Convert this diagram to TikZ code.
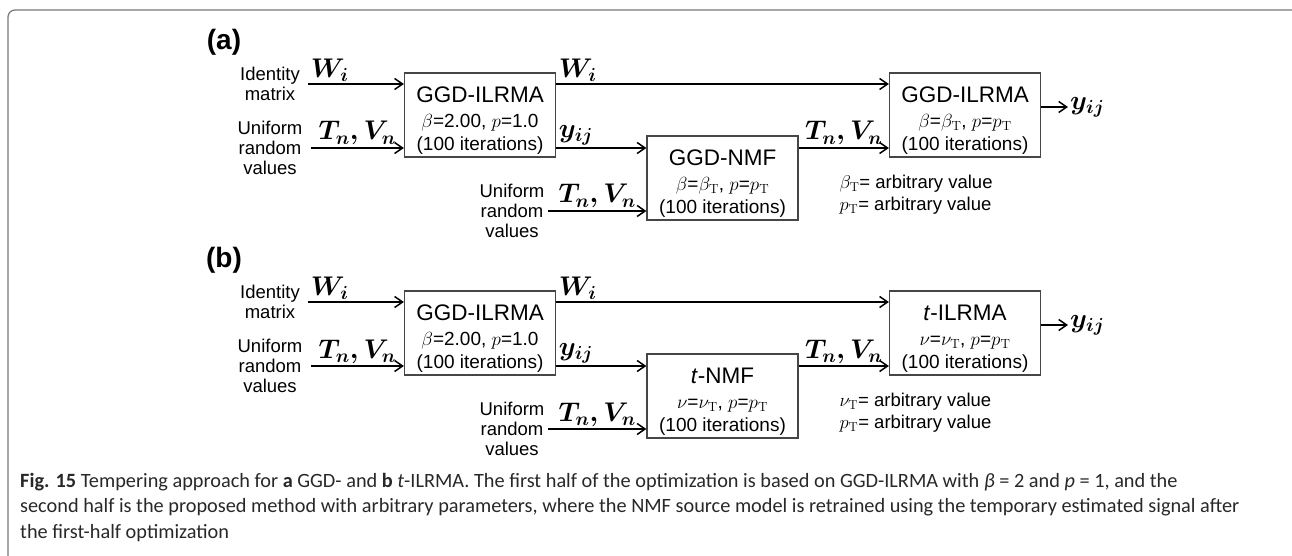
\RequirePackage{fix-cm}
\documentclass[tikz,border=0pt]{standalone}
\usepackage{amsmath}
\usepackage[no-math]{fontspec}
\setmainfont{Liberation Sans}
\newfontfamily\capfont{Carlito}
\usepackage{tikz}
\usetikzlibrary{arrows.meta, positioning, calc}
\definecolor{cframe}{RGB}{120,120,120}
\definecolor{cbox}{RGB}{70,70,70}
\definecolor{ccap}{RGB}{40,40,40}

\newcommand{\bigsz}{\fontsize{22.5}{25}\selectfont}
\newcommand{\midsz}{\fontsize{19}{22.5}\selectfont}
\newcommand{\vecsz}{\fontsize{27}{30}\selectfont}
\newcommand{\bv}[1]{$\boldsymbol{#1}$}
\newcommand{\topstrut}{\rule{0pt}{26pt}}

\begin{document}
\begin{tikzpicture}[
    x=1pt, y=-1pt,
    >={Straight Barb[length=8pt, width=11pt]},
    every node/.style={font=\fontsize{18.5}{20}\selectfont},
    block/.style={draw=cbox, line width=1.2pt, minimum width=151pt, minimum height=84pt,
        align=center, inner sep=0pt, font=\midsz},
    flow/.style={->, line width=1.5pt},
    srcnote/.style={align=center},
    vlabel/.style={font=\vecsz, inner sep=2pt},
    panel/.style={font=\fontsize{28}{30}\selectfont\bfseries},
]
    \useasboundingbox (0,0) rectangle (1292,556);

    % outer frame
    \draw[cframe, line width=1.2pt, rounded corners=7pt] (8,600) -- (8,10) -- (1300,10) -- (1300,600);

    % (a) GGD-ILRMA
    \node[panel] (labA) at (224,42) {(a)};
    \node[block] (ilrmaA) at (480,115) {{\bigsz\topstrut GGD-ILRMA}\\[3pt]$\beta$=2.00, $p$=1.0\\(100 iterations)};
    \node[block] (nmfA) at (722.5,178) {{\bigsz\topstrut GGD-NMF}\\[3pt]$\beta$=$\beta_{\mathrm{T}}$, $p$=$p_{\mathrm{T}}$\\(100 iterations)};
    \node[block] (outA) at (965,115) {{\bigsz\topstrut GGD-ILRMA}\\[3pt]$\beta$=$\beta_{\mathrm{T}}$, $p$=$p_{\mathrm{T}}$\\(100 iterations)};
    \node[srcnote, outer xsep=5pt] (idA) at (270,84) {Identity\\matrix};
    \node[srcnote, outer xsep=5pt] (uniA) at (270,148) {Uniform\\random\\values};
    \node[srcnote] (uniA2) at (512,211) {Uniform\\random\\values};
    \node[vlabel, anchor=west] (yA) at (1068,107) {\bv{y_{ij}}};
    \node[align=left, anchor=west, font=\fontsize{18.5}{22}\selectfont] (parA) at (836,195) {$\beta_{\mathrm{T}}$= arbitrary value\\$p_{\mathrm{T}}$= arbitrary value};

    \draw[flow] (idA.east) -- node[vlabel, pos=0, above right] (wA1) {\bv{W_i}} (idA.east -| ilrmaA.west);
    \draw[flow] (uniA.east) -- node[vlabel, midway, above] (tvA1) {\bv{T_n, V_n}} (uniA.east -| ilrmaA.west);
    \draw[flow] (ilrmaA.east |- idA.east) -- node[vlabel, pos=0, above right] (wA2) {\bv{W_i}} (outA.west |- idA.east);
    \draw[flow] (ilrmaA.east |- uniA.east) -- node[vlabel, pos=0, above right] (yA1) {\bv{y_{ij}}} (nmfA.west |- uniA.east);
    \draw[flow] (uniA2.east) -- node[vlabel, midway, above] (tvA2) {\bv{T_n, V_n}} (uniA2.east -| nmfA.west);
    \draw[flow] (nmfA.east |- uniA.east) -- node[vlabel, midway, above] (tvA3) {\bv{T_n, V_n}} (outA.west |- uniA.east);
    \draw[flow] (outA.east |- yA.west) -- (yA.west);

    % (b) t-ILRMA
    \begin{scope}[shift={(0,218)}]
    \node[panel] (labB) at (224,42) {(b)};
    \node[block] (ilrmaB) at (480,115) {{\bigsz\topstrut GGD-ILRMA}\\[3pt]$\beta$=2.00, $p$=1.0\\(100 iterations)};
    \node[block] (nmfB) at (722.5,178) {{\bigsz\topstrut \textit{t}-NMF}\\[3pt]$\nu$=$\nu_{\mathrm{T}}$, $p$=$p_{\mathrm{T}}$\\(100 iterations)};
    \node[block] (outB) at (965,115) {{\bigsz\topstrut \textit{t}-ILRMA}\\[3pt]$\nu$=$\nu_{\mathrm{T}}$, $p$=$p_{\mathrm{T}}$\\(100 iterations)};
    \node[srcnote, outer xsep=5pt] (idB) at (270,84) {Identity\\matrix};
    \node[srcnote, outer xsep=5pt] (uniB) at (270,148) {Uniform\\random\\values};
    \node[srcnote] (uniB2) at (512,211) {Uniform\\random\\values};
    \node[vlabel, anchor=west] (yB) at (1068,107) {\bv{y_{ij}}};
    \node[align=left, anchor=west, font=\fontsize{18.5}{22}\selectfont] (parB) at (836,195) {$\nu_{\mathrm{T}}$= arbitrary value\\$p_{\mathrm{T}}$= arbitrary value};

    \draw[flow] (idB.east) -- node[vlabel, pos=0, above right] (wB1) {\bv{W_i}} (idB.east -| ilrmaB.west);
    \draw[flow] (uniB.east) -- node[vlabel, midway, above] (tvB1) {\bv{T_n, V_n}} (uniB.east -| ilrmaB.west);
    \draw[flow] (ilrmaB.east |- idB.east) -- node[vlabel, pos=0, above right] (wB2) {\bv{W_i}} (outB.west |- idB.east);
    \draw[flow] (ilrmaB.east |- uniB.east) -- node[vlabel, pos=0, above right] (yB1) {\bv{y_{ij}}} (nmfB.west |- uniB.east);
    \draw[flow] (uniB2.east) -- node[vlabel, midway, above] (tvB2) {\bv{T_n, V_n}} (uniB2.east -| nmfB.west);
    \draw[flow] (nmfB.east |- uniB.east) -- node[vlabel, midway, above] (tvB3) {\bv{T_n, V_n}} (outB.west |- uniB.east);
    \draw[flow] (outB.east |- yB.west) -- (yB.west);
    \end{scope}

    % caption
    \node[anchor=north west, align=left, inner sep=0pt, text=ccap,
          font=\capfont\fontsize{20.3}{25.5}\selectfont] (capt) at (20,473)
        {\textbf{Fig. 15} Tempering approach for \textbf{a} GGD- and \textbf{b} \textit{t}-ILRMA. The first half of the optimization is based on GGD-ILRMA with \textit{β} = 2 and \textit{p} = 1, and the\\
         second half is the proposed method with arbitrary parameters, where the NMF source model is retrained using the temporary estimated signal after\\
         the first-half optimization};
\end{tikzpicture}
\end{document}
